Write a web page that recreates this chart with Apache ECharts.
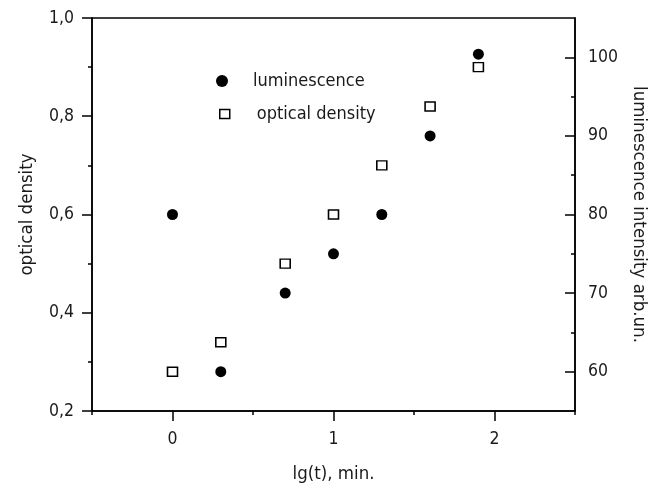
<!DOCTYPE html>
<html>
<head>
<meta charset="utf-8">
<script src="https://cdn.jsdelivr.net/npm/echarts@6/dist/echarts.min.js"></script>
<style>
html,body{margin:0;padding:0;background:#fff;}
#chart{width:660px;height:491px;}
</style>
</head>
<body>
<div id="chart"></div>
<script>
// ---- data ----
var lgT = [0, 0.3, 0.7, 1.0, 1.3, 1.6, 1.9];
var opticalDensity = [0.28, 0.34, 0.50, 0.60, 0.70, 0.82, 0.90];
var luminescence = [80, 60, 70, 75, 80, 90, 100.4];
var xTicks = [0, 1, 2];
var xMinorTicks = [-0.5, 0.5, 1.5, 2.5];
var leftTicks = [0.2, 0.4, 0.6, 0.8, 1.0];
var leftMinorTicks = [0.3, 0.5, 0.7, 0.9];
var rightTicks = [60, 70, 80, 90, 100];
var rightMinorTicks = [65, 75, 85, 95];
var seriesNames = ['luminescence', 'optical density'];
var axisNames = { x: 'lg(t), min.', left: 'optical density', right: 'luminescence intensity arb.un.' };

var FONT = '"DejaVu Sans Condensed", "Liberation Sans Narrow", "Liberation Sans", sans-serif';
var TXT = '#1a1a1a';

function pairs(xs, ys) { return xs.map(function (x, i) { return [x, ys[i]]; }); }

var chart = echarts.init(document.getElementById('chart'), null, { renderer: 'canvas' });

var lineStyle = { color: '#000', width: 1.5 };

chart.setOption({
  animation: false,
  backgroundColor: '#fff',
  grid: { left: 92, right: 85, top: 18, bottom: 80, containLabel: false, outerBoundsMode: 'none',
    show: true, borderColor: '#000', borderWidth: 1.5, backgroundColor: 'transparent' },
  legend: [
    {
      data: [{ name: seriesNames[0], icon: 'circle', itemStyle: { color: '#000', opacity: 1 } }],
      left: 211, top: 67, itemWidth: 12, itemHeight: 12,
      textStyle: { fontFamily: FONT, fontSize: 18, color: TXT, padding: [0, 0, 0, 20] },
      selectedMode: false
    },
    {
      data: [{ name: seriesNames[1], icon: 'rect', itemStyle: { color: '#fff', borderColor: '#000', borderWidth: 1.5, opacity: 1 } }],
      left: 214, top: 100, itemWidth: 10, itemHeight: 9,
      textStyle: { fontFamily: FONT, fontSize: 18, color: TXT, padding: [0, 0, 0, 22] },
      selectedMode: false
    }
  ],
  xAxis: [
    {
      type: 'value', min: -0.5, max: 2.5, position: 'bottom',
      name: axisNames.x, nameLocation: 'middle', nameGap: 54,
      nameTextStyle: { fontFamily: FONT, fontSize: 18.5, color: TXT },
      axisLine: { show: true, onZero: false, lineStyle: lineStyle },
      axisTick: { show: true, inside: false, length: 10, customValues: xTicks, lineStyle: lineStyle },
      axisLabel: { customValues: xTicks, margin: 19, fontFamily: FONT, fontSize: 17.5, color: TXT,
        formatter: function (v) { return String(v); } },
      splitLine: { show: false }
    },
    {
      type: 'value', min: -0.5, max: 2.5, position: 'bottom', gridIndex: 0,
      axisLine: { show: false, onZero: false },
      axisTick: { show: true, inside: false, length: 4, customValues: xMinorTicks, lineStyle: lineStyle },
      axisLabel: { show: false },
      splitLine: { show: false }
    }
  ],
  yAxis: [
    {
      type: 'value', min: 0.2, max: 1.0, position: 'left',
      name: axisNames.left, nameLocation: 'middle', nameGap: 55,
      nameTextStyle: { fontFamily: FONT, fontSize: 18.5, color: TXT },
      axisLine: { show: true, onZero: false, lineStyle: lineStyle },
      axisTick: { show: true, inside: false, length: 10, customValues: leftTicks, lineStyle: lineStyle },
      axisLabel: { customValues: leftTicks, margin: 18, fontFamily: FONT, fontSize: 17.5, color: TXT,
        formatter: function (v) { return v.toFixed(1).replace('.', ','); } },
      splitLine: { show: false }
    },
    {
      type: 'value', min: 0.2, max: 1.0, position: 'left',
      axisLine: { show: false, onZero: false },
      axisTick: { show: true, inside: false, length: 4, customValues: leftMinorTicks, lineStyle: lineStyle },
      axisLabel: { show: false },
      splitLine: { show: false }
    },
    {
      type: 'value', min: 55, max: 105, position: 'right',
      name: axisNames.right, nameLocation: 'middle', nameGap: 53, nameRotate: -90,
      nameTextStyle: { fontFamily: FONT, fontSize: 18.5, color: TXT },
      axisLine: { show: true, onZero: false, lineStyle: lineStyle },
      axisTick: { show: true, inside: true, length: 10, customValues: rightTicks, lineStyle: lineStyle },
      axisLabel: { customValues: rightTicks, margin: 13, fontFamily: FONT, fontSize: 17.5, color: TXT },
      splitLine: { show: false }
    },
    {
      type: 'value', min: 55, max: 105, position: 'right',
      axisLine: { show: false, onZero: false },
      axisTick: { show: true, inside: true, length: 4, customValues: rightMinorTicks, lineStyle: lineStyle },
      axisLabel: { show: false },
      splitLine: { show: false }
    }
  ],
  series: [
    {
      name: seriesNames[0], type: 'scatter', xAxisIndex: 0, yAxisIndex: 2,
      symbol: 'circle', symbolSize: 11,
      itemStyle: { color: '#000', opacity: 1 },
      data: pairs(lgT, luminescence)
    },
    {
      name: seriesNames[1], type: 'scatter', xAxisIndex: 0, yAxisIndex: 0,
      symbol: 'rect', symbolSize: [10, 9],
      itemStyle: { color: '#fff', borderColor: '#000', borderWidth: 1.5, opacity: 1 },
      data: pairs(lgT, opticalDensity)
    }
  ]
});
</script>
</body>
</html>
